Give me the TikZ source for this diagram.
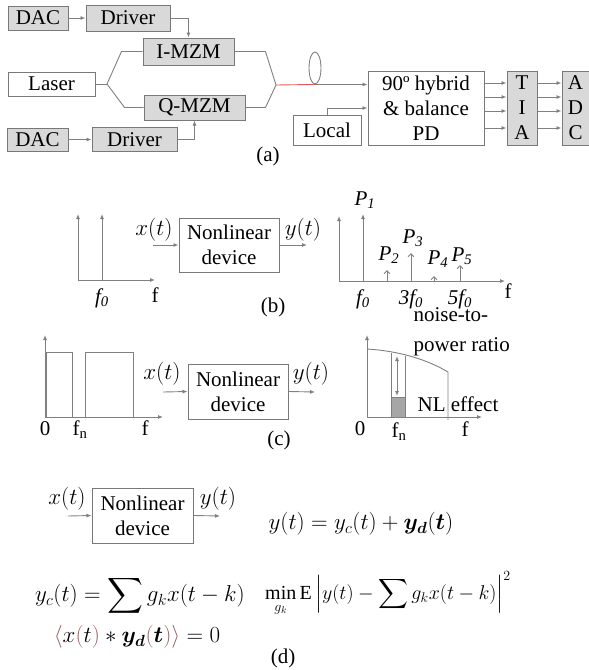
\RequirePackage{fix-cm}
\documentclass[tikz,border=0pt]{standalone}
\usepackage{amsmath}
\usepackage{bm}
\usepackage{fontspec}
\setmainfont{Liberation Serif}
\usetikzlibrary{arrows.meta,shapes.geometric,positioning}

\definecolor{boxfill}{RGB}{217,217,217}
\definecolor{boxedge}{RGB}{120,120,120}
\definecolor{wire}{RGB}{128,128,128}
\definecolor{fibre}{RGB}{225,90,90}
\definecolor{brack}{RGB}{150,95,95}

\begin{document}
\begin{tikzpicture}[
    x=1pt, y=-1pt,
    every node/.style={font=\fontsize{21}{25}\selectfont},
    mathlbl/.style={font=\fontsize{23}{26}\selectfont}, % formulas are set larger
    graybox/.style={draw=boxedge, fill=boxfill, line width=1pt, inner sep=0pt, align=center}, % gray block
    whitebox/.style={draw=boxedge, fill=white, line width=1pt, inner sep=0pt, align=center}, % white block
    wirel/.style={draw=wire, line width=0.9pt},
    sig/.style={wirel, -{Latex[length=5pt,width=4pt]}},
    tone/.style={wirel, -{Straight Barb[length=3pt,width=6pt]}}
]
    \useasboundingbox (0,0) rectangle (589,670);

    % --- (a) COHERENT LINK ---

    % Transmitter blocks
    \node[graybox, minimum width=60, minimum height=24] (dac1) at (38,18) {DAC};
    \node[graybox, minimum width=84, minimum height=26] (drv1) at (128,18) {Driver};
    \node[graybox, minimum width=91, minimum height=27] (imzm) at (188.5,51.5) {I-MZM};
    \node[whitebox, minimum width=87, minimum height=24] (laser) at (51.5,84) {Laser};
    \node[graybox, minimum width=101, minimum height=25] (qmzm) at (194.5,107.5) {Q-MZM};
    \node[graybox, minimum width=61, minimum height=23] (dac2) at (37.5,139.5) {DAC};
    \node[graybox, minimum width=85, minimum height=24] (drv2) at (134.5,139.5) {Driver};

    % Drive signals
    \draw[sig] (dac1) -- (drv1);
    \draw[sig] (drv1.east) -| (imzm.north);
    \draw[sig] (dac2) -- (drv2);
    \draw[sig] (drv2.east) -| (qmzm.south);

    % Split and combine
    \coordinate (split) at (107,84);
    \coordinate (join) at (276,85);
    \draw[wirel] (laser.east) -- (split);
    \draw[wirel] (split) -- ([xshift=-21]imzm.west) -- (imzm.west);
    \draw[wirel] (split) -- ([xshift=-19]qmzm.west) -- (qmzm.west);
    \draw[wirel] (imzm.east) -- ([xshift=31]imzm.east) -- (join);
    \draw[wirel] (qmzm.east) -- ([xshift=20]qmzm.east) -- (join);

    % Fibre and receiver
    \node[ellipse, draw=wire, line width=0.9pt, minimum width=12, minimum height=32, inner sep=0pt] (coil) at (315,68) {};
    \node[whitebox, minimum width=116, minimum height=74] (hybrid) at (426,108) {90º hybrid\\\& balance\\PD};
    \node[whitebox, minimum width=68, minimum height=30] (local) at (327,130) {Local};
    \node[graybox, minimum width=30, minimum height=74] (tia) at (522,108) {T\\I\\A};
    \node[graybox, minimum width=27, minimum height=74] (adc) at (575.5,108) {A\\D\\C};

    \draw[fibre, line width=0.9pt] (join) -- (coil.south);
    \draw[sig] (coil.south) -- (coil.south -| hybrid.west);
    \draw[sig] (local.north) |- (hybrid.west);
    \foreach \yy in {83,97,111,128} {
        \draw[sig] (hybrid.east |- 0,\yy) -- (tia.west |- 0,\yy);
        \draw[sig] (tia.east |- 0,\yy) -- (adc.west |- 0,\yy);
    }

    \node (labela) at (268,156) {(a)};

    % --- (b) TWO TONES ---

    % Input spectrum
    \coordinate (bo) at (78,280);
    \draw[sig] (bo) -- ++(77,0);
    \draw[sig] (bo) -- ++(0,-66);
    \draw[sig] (102,280) -- ++(0,-66);
    \node (bf0) at (102,298) {\textit{f\textsubscript{0}}};
    \node (bf) at (155,295) {f};

    % Device
    \node[whitebox, minimum width=100, minimum height=54] (nlb) at (229,245) {Nonlinear\\device};
    \coordinate (bin) at (153,245);
    \coordinate (bout) at (307,245);
    \draw[sig] (bin) -- (nlb.west);
    \draw[sig] (nlb.east) -- (bout);
    \node[mathlbl] (bx) at (154,230) {$x(t)$};
    \node[mathlbl] (by) at (303,230) {$y(t)$};

    % Output spectrum
    \coordinate (bo2) at (339,281);
    \draw[sig] (bo2) -- ++(166,0);
    \draw[sig] (bo2) -- ++(0,-65);
    \draw[sig] (363,281) -- ++(0,-67);
    \foreach \xx/\hh in {387/11, 411/28, 434/5, 460/16}
        \draw[tone] (\xx,281) -- ++(0,-\hh);
    \node (p1) at (365,200) {\textit{P\textsubscript{1}}};
    \node (p2) at (389,255) {\textit{P\textsubscript{2}}};
    \node (p3) at (413,238) {\textit{P\textsubscript{3}}};
    \node (p4) at (438,259) {\textit{P\textsubscript{4}}};
    \node (p5) at (462,256) {\textit{P\textsubscript{5}}};
    \node (cf0) at (363,299) {\textit{f\textsubscript{0}}};
    \node (cf3) at (411,299) {\textit{3f\textsubscript{0}}};
    \node (cf5) at (460,299) {\textit{5f\textsubscript{0}}};
    \node (cf) at (508,291) {f};

    \node (labelb) at (273,307) {(b)};

    % --- (c) NOTCHED BAND ---

    % Input spectrum
    \coordinate (co) at (45,417);
    \draw[sig] (co) -- ++(118,0);
    \draw[sig] (co) -- ++(0,-82);
    \draw[wirel] (46,417) -- (46,352) -- (72,352) -- (72,417);
    \draw[wirel] (85,417) -- (85,352) -- (133,352) -- (133,417);
    \node (c0) at (45,429) {0};
    \node (cfn) at (80,430) {f\textsubscript{n}};
    \node (cff) at (145,428) {f};

    % Device
    \node[whitebox, minimum width=100, minimum height=55] (nlc) at (238,391.5) {Nonlinear\\device};
    \coordinate (cin) at (163,392);
    \coordinate (cout) at (315,392);
    \draw[sig] (cin) -- (nlc.west);
    \draw[sig] (nlc.east) -- (cout);
    \node[mathlbl] (cx) at (162,374) {$x(t)$};
    \node[mathlbl] (cy) at (311,374) {$y(t)$};

    % Output spectrum
    \coordinate (co2) at (367,417);
    \draw[sig] (co2) -- ++(115,0);
    \draw[sig] (co2) -- ++(0,-82);
    \draw[wirel] (367,349) .. controls (400,351) and (428,360) .. (448,372) -- (448,420);
    \draw[wirel] (391,417) -- (391,353);
    \draw[wirel] (405,417) -- (405,356);
    \draw[wire, line width=0.9pt, {Latex[length=5pt,width=4pt]}-{Latex[length=5pt,width=4pt]}] (397,356) -- (397,396);
    \filldraw[fill=gray!70, draw=wire] (391,397) rectangle (405,417);
    \node (d0) at (360,429) {0};
    \node (dfn) at (399,432) {f\textsubscript{n}};
    \node (dff) at (465,429) {f};
    \node (nle) at (458,404) {NL effect};
    \node[align=left, anchor=west] (npr) at (410,332) {noise-to-\\[5pt]power ratio};

    \node (labelc) at (279,440) {(c)};

    % --- (d) MODEL ---

    \node[whitebox, minimum width=101, minimum height=55] (nld) at (142.5,515.5) {Nonlinear\\device};
    \coordinate (din) at (68,516);
    \coordinate (dout) at (220,516);
    \draw[sig] (din) -- (nld.west);
    \draw[sig] (nld.east) -- (dout);
    \node[mathlbl] (dx) at (67,499) {$x(t)$};
    \node[mathlbl] (dy) at (218,499) {$y(t)$};

    % Equations
    \node[mathlbl] (eqa) at (361,524) {$y(t) = y_c(t) + \bm{y_d}(\bm{t})$};
    \node[mathlbl] (eqb) at (140,596) {$y_c(t) = \displaystyle\sum g_k x(t-k)$};
    \node[font=\fontsize{20}{25}\selectfont] (eqc) at (388,594) {$\displaystyle\min_{g_k} \mathrm{E} \left| y(t) - \sum g_k x(t-k) \right|^2$};
    \node[mathlbl] (eqd) at (137,637) {$\textcolor{brack}{\langle} x\textcolor{brack}{(}t\textcolor{brack}{)} * \bm{y_d}\textcolor{brack}{(}\bm{t}\textcolor{brack}{)}\textcolor{brack}{\rangle} = 0$};

    \node (labeld) at (283,658) {(d)};

\end{tikzpicture}
\end{document}
